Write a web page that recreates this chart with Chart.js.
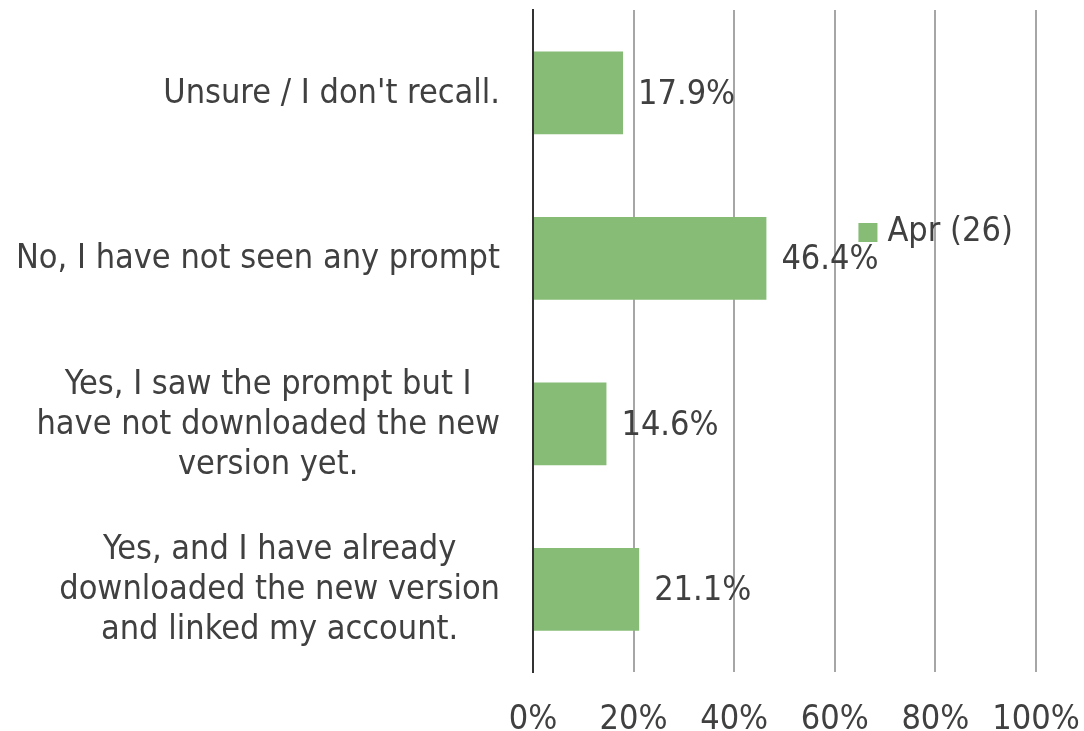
<!DOCTYPE html>
<html>
<head>
<meta charset="utf-8">
<script src="https://cdn.jsdelivr.net/npm/chart.js@4/dist/chart.umd.min.js"></script>
<style>
html,body{margin:0;padding:0;background:#fff;}
#wrap{width:1084px;height:731px;position:relative;}
</style>
</head>
<body>
<div id="wrap"><canvas id="c" width="1084" height="731"></canvas></div>
<script>
const categories = [
  ["Unsure / I don't recall."],
  ["No, I have not seen any prompt"],
  ["Yes, I saw the prompt but I", "have not downloaded the new", "version yet."],
  ["Yes, and I have already", "downloaded the new version", "and linked my account."]
];
const seriesName = "Apr (26)";
const seriesValues = [17.9, 46.4, 14.6, 21.1];
const xTicks = [0, 20, 40, 60, 80, 100];

const FONT = "'DejaVu Sans Condensed', 'DejaVu Sans', sans-serif";
const FS = 34;
const TXT = '#404040';
const GREEN = '#86bc75';

const customDraw = {
  id: 'customDraw',
  afterDatasetsDraw(chart) {
    const ctx = chart.ctx;
    const yScale = chart.scales.y;
    const area = chart.chartArea;
    ctx.save();
    ctx.font = FS + 'px ' + FONT;
    ctx.fillStyle = TXT;
    // category labels: block right-aligned, lines centered
    const right = area.left - 33;
    const lh = 40;
    categories.forEach((lines, i) => {
      const cy = yScale.getPixelForValue(i);
      let maxW = 0;
      lines.forEach(l => { maxW = Math.max(maxW, ctx.measureText(l).width); });
      const cx = right - maxW / 2;
      ctx.textAlign = 'center';
      ctx.textBaseline = 'middle';
      const top = cy - (lines.length - 1) * lh / 2;
      lines.forEach((l, j) => ctx.fillText(l, cx, top + j * lh + 1));
    });
    // data labels
    const meta = chart.getDatasetMeta(0);
    ctx.textAlign = 'left';
    ctx.textBaseline = 'middle';
    meta.data.forEach((bar, i) => {
      ctx.fillText(seriesValues[i].toFixed(1) + '%', bar.x + 15, bar.y + 2);
    });
    // legend
    const lx = area.left + (area.right - area.left) * 0.647;
    const ly = 223;
    ctx.fillStyle = GREEN;
    ctx.fillRect(lx, ly, 19, 19);
    ctx.fillStyle = TXT;
    ctx.fillText(seriesName, lx + 29, ly + 9);
    ctx.restore();
  }
};

new Chart(document.getElementById('c'), {
  type: 'bar',
  data: {
    labels: categories.map(c => c.join(' ')),
    datasets: [{
      label: seriesName,
      data: seriesValues,
      backgroundColor: GREEN,
      barPercentage: 1,
      categoryPercentage: 0.5
    }]
  },
  options: {
    indexAxis: 'y',
    responsive: false,
    animation: false,
    layout: { padding: { left: 533, right: 48, top: 10, bottom: 0 } },
    plugins: { legend: { display: false }, tooltip: { enabled: false } },
    scales: {
      x: {
        min: 0, max: 100,
        afterBuildTicks: s => { s.ticks = xTicks.map(v => ({ value: v })); },
        afterFit: s => { s.height = 59; s.paddingLeft = 0; s.paddingRight = 0; },
        ticks: {
          callback: v => v + '%',
          color: TXT,
          font: { family: FONT, size: FS, lineHeight: 1 },
          padding: 31,
          maxRotation: 0
        },
        grid: { color: '#a6a6a6', lineWidth: 2, drawTicks: false },
        border: { display: false }
      },
      y: {
        ticks: { display: false },
        grid: { display: false, drawTicks: false },
        border: { display: true, color: '#333333', width: 2 },
        afterFit: s => { s.width = 0; }
      }
    }
  },
  plugins: [customDraw]
});
</script>
</body>
</html>
